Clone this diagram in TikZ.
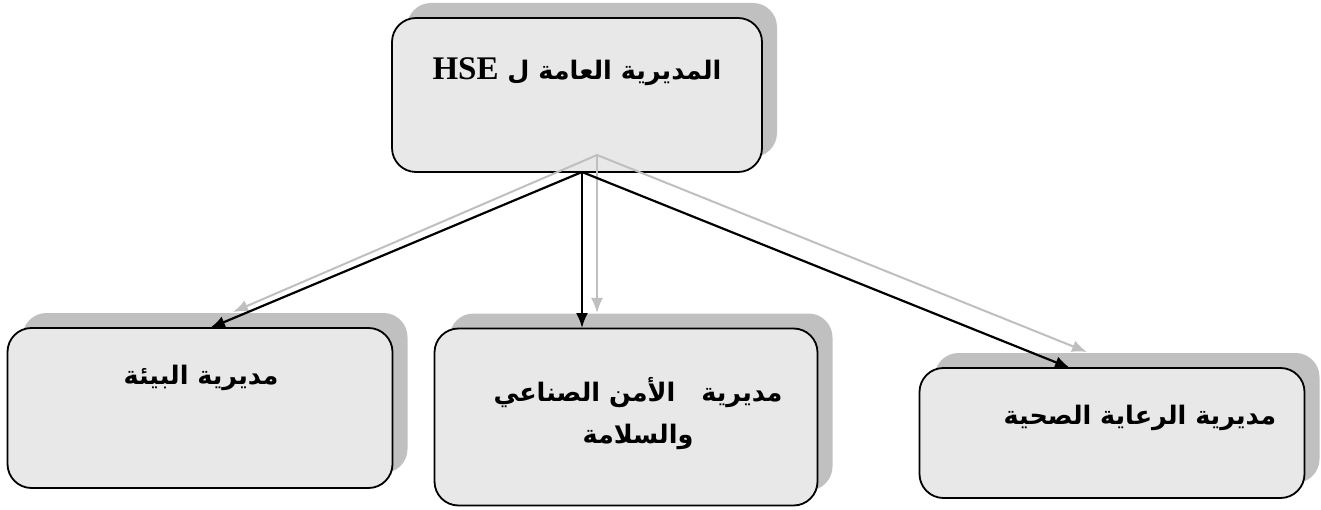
\documentclass[tikz,border=0pt]{standalone}
\usepackage{fontspec}
\setmainfont{Liberation Serif}
\newfontfamily\arabicfont[Script=Arabic,BoldFont={DejaVu Sans Bold}]{DejaVu Sans}
\TeXXeTstate=1
\usetikzlibrary{arrows.meta,shadows}
\definecolor{boxgray}{HTML}{E8E8E8}
\definecolor{shadowgray}{HTML}{C0C0C0}
\definecolor{arrowgray}{HTML}{BFBFBF}

\begin{document}
\begin{tikzpicture}[x=1pt,y=-1pt,>={Latex[length=15pt,width=12pt]},
  box/.style={draw,line width=1.8pt,rounded corners=24pt,fill=boxgray,
    general shadow={shadow xshift=15pt,shadow yshift=15pt,fill=shadowgray,draw=none}},
  lbl/.style={font=\fontsize{25.5}{30}\selectfont\bfseries,align=center,inner sep=0pt},
  link/.style={->,line width=2.2pt},
  linkshade/.style={->,line width=2pt,draw=arrowgray}]
\useasboundingbox (0,0) rectangle (1321,510);
% boxes
\node[box,minimum width=370pt,minimum height=154pt] (hse) at (577,95) {};
\node[box,minimum width=385pt,minimum height=160pt] (env) at (200,408) {};
\node[box,minimum width=383pt,minimum height=177pt] (safety) at (626,417) {};
\node[box,minimum width=385pt,minimum height=130pt] (health) at (1112,433) {};
% texts
\node[lbl] (hse-t) at (577,72) {\arabicfont\beginR المديرية العامة ل \beginL{\rmfamily\fontsize{33}{34}\selectfont HSE}\endL\endR};
\node[lbl,align=center] (safety-t) at (638,414) {\arabicfont\beginR مديرية\hspace{26pt}الأمن الصناعي\endR\\[12pt]\arabicfont\beginR والسلامة\endR};
\node[lbl] (env-t) at (201,378) {\arabicfont\beginR مديرية البيئة\endR};
\node[lbl] (health-t) at (1140,418) {\arabicfont\beginR مديرية الرعاية الصحية\endR};
% connector ends
\coordinate (src) at (582,172);
\coordinate (srcs) at (597,155);
\coordinate (env-in) at (210,328);
\coordinate (env-ins) at (233,312);
\coordinate (safety-in) at (582,328);
\coordinate (safety-ins) at (597,313);
\coordinate (health-in) at (1070,368);
\coordinate (health-ins) at (1087,352);
\draw[linkshade] (srcs)--(env-ins);
\draw[linkshade] (srcs)--(safety-ins);
\draw[linkshade] (srcs)--(health-ins);
\draw[link] (src)--(env-in);
\draw[link] (src)--(safety-in);
\draw[link] (src)--(health-in);
\end{tikzpicture}
\end{document}
